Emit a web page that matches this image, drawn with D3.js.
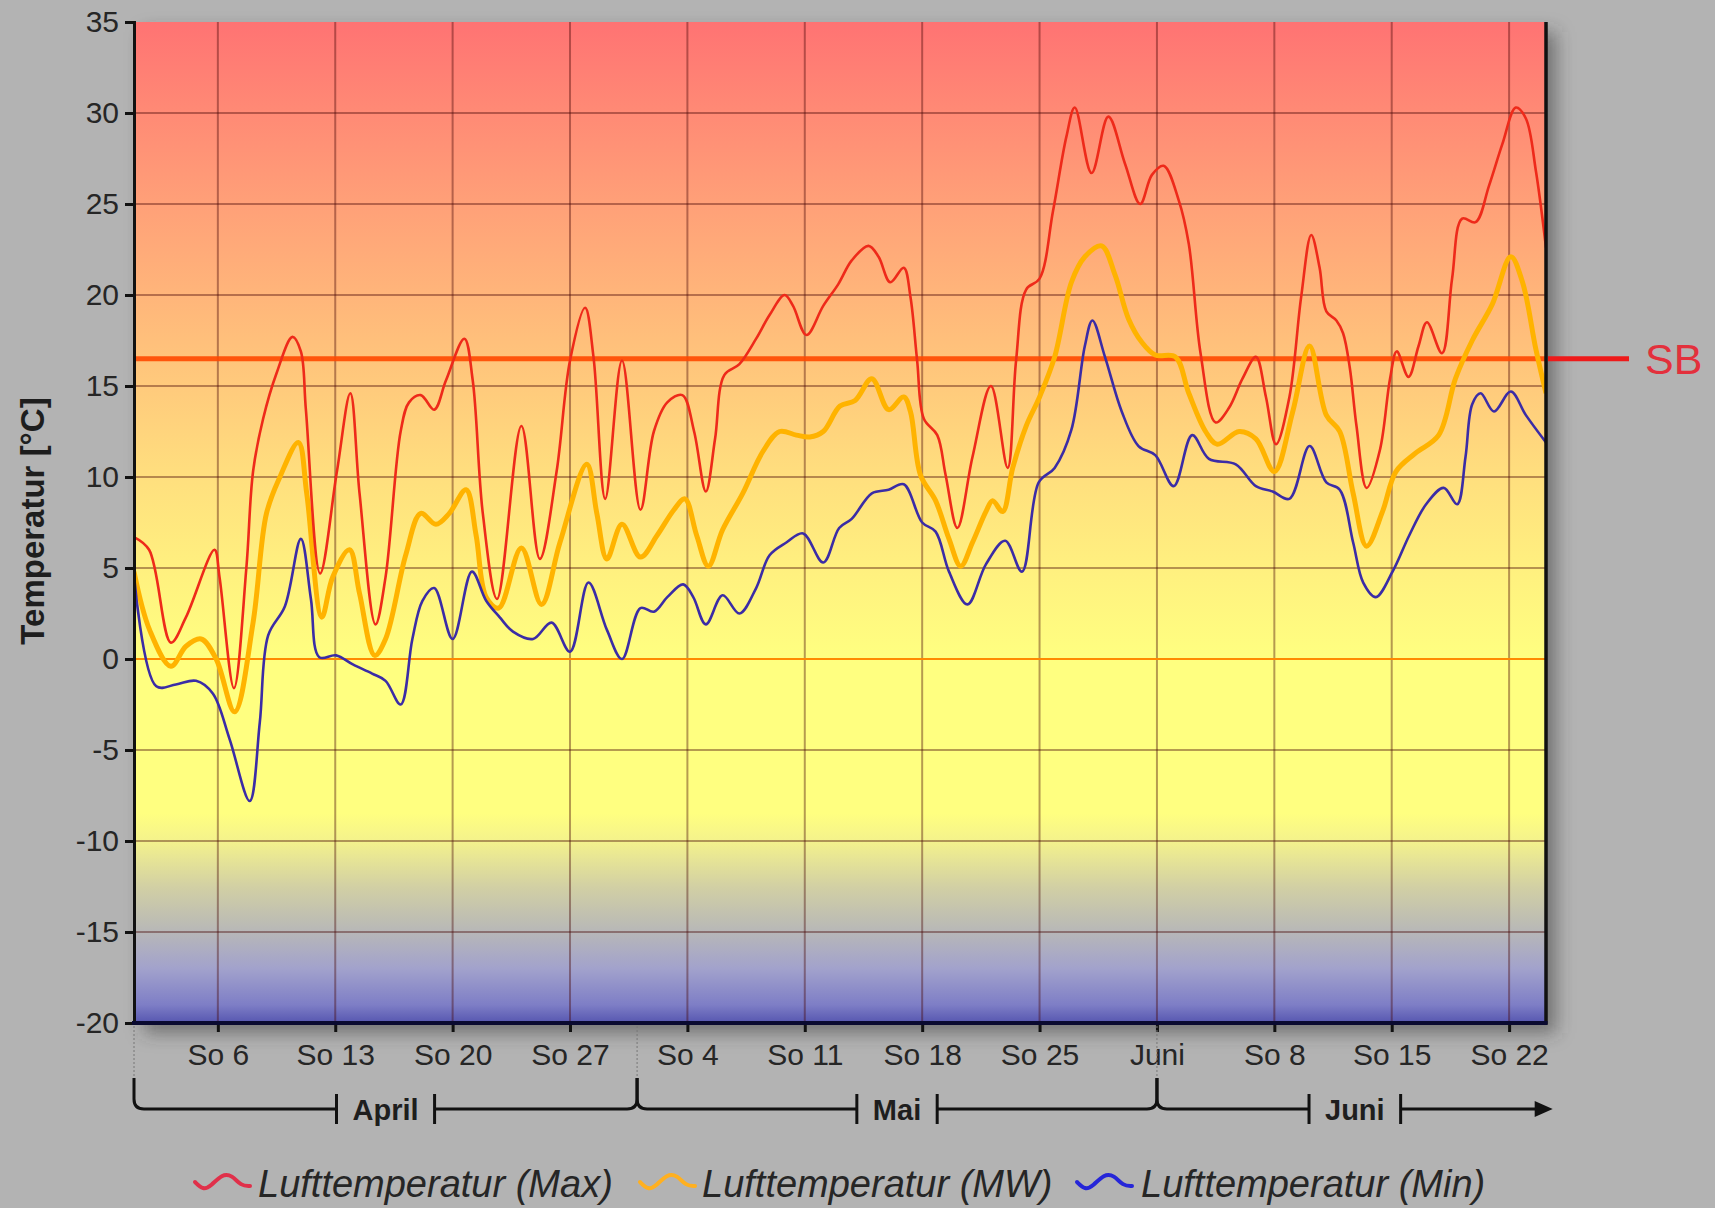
<!DOCTYPE html>
<html>
<head>
<meta charset="utf-8">
<script src="https://cdn.jsdelivr.net/npm/d3@7"></script>
<style>
  html, body { margin: 0; padding: 0; background: #b3b3b3; }
  svg { display: block; }
  text { font-family: "Liberation Sans", Arial, sans-serif; }
</style>
</head>
<body>
<svg id="chart" width="1715" height="1208"></svg>
<script>
// ---------------- DATA ----------------
// day offsets are days since 1 April 2014, 00:00
const maxDays = [0,0.9,2.2,3.1,4.8,5.1,5.96,6.7,7.1,7.7,8.5,9.45,9.95,10.25,11.1,12.1,12.9,13.45,14.4,15.0,15.9,16.4,17.1,17.9,18.6,19.7,20.2,20.8,21.65,23.1,24.2,25.2,26.0,26.9,27.4,28.1,29.1,30.2,31.0,31.8,32.7,33.4,34.1,34.65,35.2,36.1,37.1,37.9,38.8,39.3,40.1,41.1,42.0,42.8,43.8,44.4,45.1,45.9,46.3,46.7,47.1,47.9,48.4,49.1,50.0,51.1,52.1,52.6,53.2,54.0,54.8,55.6,56.1,57.1,58.1,59.1,60.0,60.7,61.4,62.3,62.9,63.6,64.5,65.3,66.1,66.9,67.5,68.1,68.9,69.6,70.2,70.7,71.1,71.7,72.1,72.5,72.9,73.5,74.3,74.9,75.3,76.0,76.6,77.1,78.0,78.6,79.2,80.0,80.8,81.6,82.4,83.0,83.6,84.2];
const maxTemps = [6.7,6.0,0.9,2.3,6.0,4.5,-1.6,5.0,10.3,13.2,15.7,17.7,16.9,13.7,4.7,10.3,14.6,9.1,1.9,4.5,12.5,14.1,14.5,13.7,15.3,17.6,15.3,8.0,3.3,12.8,5.5,10.3,16.4,19.3,16.6,8.8,16.4,8.2,12.5,14.1,14.5,12.5,9.2,12.1,15.6,16.2,17.6,18.9,20.0,19.4,17.8,19.4,20.6,21.9,22.7,22.1,20.7,21.5,19.9,16.4,13.2,12.3,10.1,7.2,11.1,15.0,10.5,16.4,20.3,20.9,24.6,28.7,30.3,26.7,29.8,27.2,25.0,26.6,27.1,25.2,22.8,16.8,13.0,13.8,15.4,16.6,14.4,11.8,14.4,19.9,23.3,21.5,19.1,18.6,17.9,16.0,12.8,9.4,11.5,15.4,16.9,15.5,17.2,18.5,16.8,20.9,24.2,24.0,26.0,28.3,30.3,29.7,26.8,22.6];

const mwDays = [0,0.93,2.2,3.1,4.0,4.9,6.0,7.1,7.9,8.7,9.8,10.3,11.2,11.85,12.85,13.45,14.35,15.0,16.2,17.1,18.0,18.8,19.8,20.4,21.0,21.75,23.1,24.3,25.4,27.0,27.6,28.2,29.1,30.2,31.2,32.2,32.85,33.55,34.25,35.1,36.3,37.5,38.5,39.5,40.3,41.1,42.1,43.0,44.0,45.0,45.9,46.3,46.9,47.8,48.6,49.3,50.0,50.8,51.2,51.8,52.4,53.2,54.0,54.9,55.9,56.7,57.7,58.5,59.3,60.1,60.9,62.1,62.9,63.9,64.6,65.9,66.9,68.0,69.1,70.1,71.1,71.9,72.7,73.5,74.45,75.25,76.4,77.8,78.8,79.8,81.0,82.1,82.8,83.6,84.2];
const mwTemps = [4.8,1.6,-0.4,0.7,1.1,0.0,-2.9,2.0,8.0,10.0,11.9,9.1,2.3,4.5,6.0,3.6,0.2,1.1,5.7,8.0,7.4,8.0,9.3,6.8,3.4,2.8,6.1,3.0,6.4,10.7,8.0,5.5,7.4,5.6,6.8,8.2,8.8,6.8,5.1,7.1,9.1,11.4,12.5,12.3,12.2,12.5,13.9,14.2,15.4,13.7,14.4,13.6,10.1,8.7,6.6,5.1,6.4,8.1,8.7,8.1,10.5,12.8,14.4,16.6,20.7,22.1,22.7,21.1,18.7,17.4,16.7,16.6,14.6,12.5,11.8,12.5,12.1,10.3,13.6,17.2,13.4,12.5,9.1,6.2,8.1,10.3,11.3,12.3,15.4,17.5,19.5,22.1,20.7,17.0,14.6];

const minDays = [0,1.33,2.5,3.7,4.7,5.7,6.9,7.5,8.0,9.0,9.95,10.55,11.05,12.05,13.05,14.2,15.0,15.9,16.6,17.2,17.9,19.0,20.15,21.0,21.8,22.6,23.8,24.9,26.0,27.1,28.2,29.1,30.2,31.0,31.8,32.75,33.35,34.1,35.1,36.1,37.1,37.9,38.9,39.9,41.1,42.05,42.8,44.0,45.0,45.9,47.0,47.8,48.6,49.7,50.8,51.95,52.95,53.95,54.9,55.9,56.7,57.15,57.9,58.9,59.9,60.9,62.0,63.1,64.1,65.7,66.9,67.9,68.9,70.1,71.1,71.9,72.7,73.3,74.05,75.05,76.05,77.05,78.1,78.9,79.4,79.8,80.3,81.1,82.1,83.0,84.2];
const minTemps = [4.6,-1.5,-1.4,-1.2,-1.9,-4.4,-7.8,-3.5,1.3,2.9,6.6,3.3,0.1,0.2,-0.3,-0.8,-1.2,-2.5,1.1,3.2,3.9,1.1,4.8,3.2,2.3,1.5,1.1,2.0,0.4,4.2,1.6,0.0,2.8,2.6,3.4,4.1,3.4,1.9,3.5,2.5,3.9,5.7,6.4,6.9,5.3,7.2,7.7,9.1,9.3,9.6,7.5,7.0,4.8,3.0,5.2,6.5,4.8,9.7,10.5,12.6,17.2,18.6,16.6,13.6,11.7,11.2,9.5,12.3,11.0,10.7,9.5,9.2,8.8,11.7,9.7,9.3,6.4,4.2,3.4,4.8,6.8,8.5,9.4,8.5,11.1,14.0,14.6,13.6,14.7,13.4,11.9];

const yTicks = [-20,-15,-10,-5,0,5,10,15,20,25,30,35];
const xTickDays = [5,12,19,26,33,40,47,54,61,68,75,82];
const xTickLabels = ["So 6","So 13","So 20","So 27","So 4","So 11","So 18","So 25","Juni","So 8","So 15","So 22"];
const monthNames = ["April","Mai","Juni"];
const monthStartDays = [0,30,61];
const monthEndDays = [30,61,84.6];
const sbValue = 16.5;
const sbLabel = "SB";
const seriesNames = ["Lufttemperatur (Max)","Lufttemperatur (MW)","Lufttemperatur (Min)"];
const yTitle = "Temperatur [°C]";
const domainDays = [0, 84.2];

// ---------------- LAYOUT ----------------
const startMs = Date.UTC(2014, 3, 1);
const toDate = d => new Date(startMs + d * 864e5);
const L = 134, R = 1546, T = 22, B = 1023;

const svg = d3.select("#chart");
const defs = svg.append("defs");

const x = d3.scaleUtc().domain(domainDays.map(toDate)).range([L, R]);
const y = d3.scaleLinear().domain([-20, 35]).range([B, T]);

// background gradient
const grad = defs.append("linearGradient").attr("id", "bg")
  .attr("gradientUnits", "userSpaceOnUse")
  .attr("x1", 0).attr("x2", 0).attr("y1", y(35)).attr("y2", y(-20));
const stops = [
  [35, "#ff7373"], [30, "#ff8a75"], [25, "#ffa078"], [20, "#ffb57a"],
  [15, "#ffca7c"], [10, "#ffdf7e"], [5, "#fff07f"], [0, "#ffff80"],
  [-8.5, "#ffff80"], [-10, "#f4f28c"], [-12.5, "#d2d0a4"], [-14.8, "#b9b9b6"],
  [-17, "#a2a2cc"], [-19, "#7e7ec6"], [-20, "#5656b0"]
];
stops.forEach(([v, c]) => grad.append("stop")
  .attr("offset", (35 - v) / 55).attr("stop-color", c));

// shadow filter
const f = defs.append("filter").attr("id", "shadow")
  .attr("x", "-5%").attr("y", "-5%").attr("width", "115%").attr("height", "115%");
f.append("feGaussianBlur").attr("stdDeviation", 9);

defs.append("clipPath").attr("id", "plotclip")
  .append("rect").attr("x", L).attr("y", T).attr("width", R - L).attr("height", B - T);

// drop shadow
svg.append("rect")
  .attr("x", L + 10).attr("y", T + 10).attr("width", R - L).attr("height", B - T)
  .attr("fill", "rgba(60,60,60,0.55)").attr("filter", "url(#shadow)");

// plot background
svg.append("rect")
  .attr("x", L).attr("y", T).attr("width", R - L).attr("height", B - T)
  .attr("fill", "url(#bg)");

// grid
const gridColor = "rgba(70,5,5,0.4)";
const grid = svg.append("g");
grid.selectAll("line.h").data(yTicks.filter(v => v !== 35 && v !== -20 && v !== 0)).join("line")
  .attr("x1", L).attr("x2", R).attr("y1", d => y(d)).attr("y2", d => y(d))
  .attr("stroke", gridColor).attr("stroke-width", 2);
grid.selectAll("line.v").data(xTickDays).join("line")
  .attr("x1", d => x(toDate(d))).attr("x2", d => x(toDate(d)))
  .attr("y1", T).attr("y2", B)
  .attr("stroke", gridColor).attr("stroke-width", 2);
grid.append("line")
  .attr("x1", L).attr("x2", R).attr("y1", y(0)).attr("y2", y(0))
  .attr("stroke", "#ff8a00").attr("stroke-width", 2);

// SB line inside plot
svg.append("line")
  .attr("x1", L).attr("x2", R).attr("y1", y(sbValue)).attr("y2", y(sbValue))
  .attr("stroke", "#ff4a00").attr("stroke-width", 5).attr("opacity", 0.9);

// curves
const line = d3.line()
  .x(d => x(toDate(d[0]))).y(d => y(d[1]))
  .curve(d3.curveCatmullRom.alpha(0.5));
const curves = svg.append("g").attr("clip-path", "url(#plotclip)");
const series = [
  { days: mwDays, temps: mwTemps, color: "#ffb300", width: 5 },
  { days: maxDays, temps: maxTemps, color: "#ee2a1a", width: 2.6 },
  { days: minDays, temps: minTemps, color: "#3b2ca6", width: 2.6 }
];
series.forEach(s => {
  curves.append("path")
    .datum(s.days.map((d, i) => [d, s.temps[i]]))
    .attr("fill", "none").attr("stroke", s.color)
    .attr("stroke-width", s.width).attr("stroke-linejoin", "round")
    .attr("d", line);
});

// right border
svg.append("line").attr("x1", R).attr("x2", R).attr("y1", T).attr("y2", B + 1.5)
  .attr("stroke", "#111").attr("stroke-width", 3.5);

// SB outside
svg.append("line")
  .attr("x1", R + 2).attr("x2", 1629).attr("y1", y(sbValue)).attr("y2", y(sbValue))
  .attr("stroke", "#ee1a1a").attr("stroke-width", 5);
svg.append("text").attr("x", 1645).attr("y", y(sbValue) + 15)
  .attr("font-size", 43).attr("fill", "#e3303c").text(sbLabel);

// y axis
const yAxis = d3.axisLeft(y).tickValues(yTicks).tickSize(9).tickPadding(6)
  .tickFormat(d => String(d));
const yg = svg.append("g").attr("transform", `translate(${L},0)`).call(yAxis);
yg.select(".domain").attr("stroke", "#111").attr("stroke-width", 3);
yg.selectAll(".tick line").attr("stroke", "#111").attr("stroke-width", 3);
yg.selectAll(".tick text").attr("font-size", 30).attr("fill", "#262626")
  .attr("font-family", "'Liberation Sans', Arial, sans-serif");

// x axis
const xAxis = d3.axisBottom(x).tickValues(xTickDays.map(toDate)).tickSize(9).tickPadding(12)
  .tickFormat((d, i) => xTickLabels[i]);
const xg = svg.append("g").attr("transform", `translate(0,${B})`).call(xAxis);
xg.select(".domain").remove();
xg.selectAll(".tick line").attr("stroke", "#111").attr("stroke-width", 3);
xg.selectAll(".tick text").attr("font-size", 30).attr("fill", "#262626")
  .attr("font-family", "'Liberation Sans', Arial, sans-serif");
svg.append("line").attr("x1", L - 2).attr("x2", R + 1.5).attr("y1", B).attr("y2", B)
  .attr("stroke", "#0a0a30").attr("stroke-width", 4);

// y title
svg.append("text")
  .attr("transform", "translate(44,521) rotate(-90)")
  .attr("text-anchor", "middle").attr("font-size", 33).attr("font-weight", "bold")
  .attr("fill", "#1e1e1e").text(yTitle);

// month brackets
const by = 1109, btop = 1078, rad = 10;
const mg = svg.append("g").attr("stroke", "#111").attr("fill", "none").attr("stroke-width", 3);
monthStartDays.forEach((sd, i) => {
  const x0 = x(toDate(sd));
  svg.append("line").attr("x1", x0).attr("x2", x0).attr("y1", B + 3).attr("y2", btop)
    .attr("stroke", "#777").attr("stroke-width", 1).attr("stroke-dasharray", "2,2");
});
monthNames.forEach((name, i) => {
  const x0 = x(toDate(monthStartDays[i]));
  const last = i === monthNames.length - 1;
  const x1 = x(toDate(monthEndDays[i]));
  const cx = (x0 + x1) / 2;
  const t = svg.append("text").attr("x", cx).attr("y", by + 11)
    .attr("text-anchor", "middle").attr("font-size", 29).attr("font-weight", "bold")
    .attr("fill", "#1e1e1e").text(name);
  const w = t.node().getComputedTextLength();
  const g0 = cx - w / 2 - 16, g1 = cx + w / 2 + 16;
  mg.append("path").attr("d",
    `M${x0},${btop} V${by - rad} Q${x0},${by} ${x0 + rad},${by} H${g0}`);
  mg.append("line").attr("x1", g0).attr("x2", g0).attr("y1", by - 15).attr("y2", by + 15);
  mg.append("line").attr("x1", g1).attr("x2", g1).attr("y1", by - 15).attr("y2", by + 15);
  if (!last) {
    mg.append("path").attr("d",
      `M${g1},${by} H${x1 - rad} Q${x1},${by} ${x1},${by - rad} V${btop}`);
  } else {
    mg.append("path").attr("d", `M${g1},${by} H${x1 - 14}`);
    svg.append("path").attr("d",
      `M${x1},${by} L${x1 - 18},${by - 8} L${x1 - 18},${by + 8} Z`).attr("fill", "#111");
  }
});

// legend
const legendItems = [
  { name: seriesNames[0], color: "#e0304a", sx: 195, tx: 258 },
  { name: seriesNames[1], color: "#ffb020", sx: 640, tx: 702 },
  { name: seriesNames[2], color: "#2626d8", sx: 1077, tx: 1141 }
];
const wave = [[0, 8], [8, 16], [16, 12], [27, 0], [37, 1], [46, 12], [55, 12]];
const wl = d3.line().x(d => d[0]).y(d => d[1]).curve(d3.curveBasis);
const ly = 1197;
legendItems.forEach(it => {
  svg.append("path").attr("transform", `translate(${it.sx},${ly - 23})`)
    .attr("d", wl(wave)).attr("fill", "none").attr("stroke", it.color)
    .attr("stroke-width", 4).attr("stroke-linecap", "round");
  svg.append("text").attr("x", it.tx).attr("y", ly)
    .attr("font-size", 38).attr("font-style", "italic").attr("fill", "#262626")
    .text(it.name);
});
</script>
</body>
</html>
